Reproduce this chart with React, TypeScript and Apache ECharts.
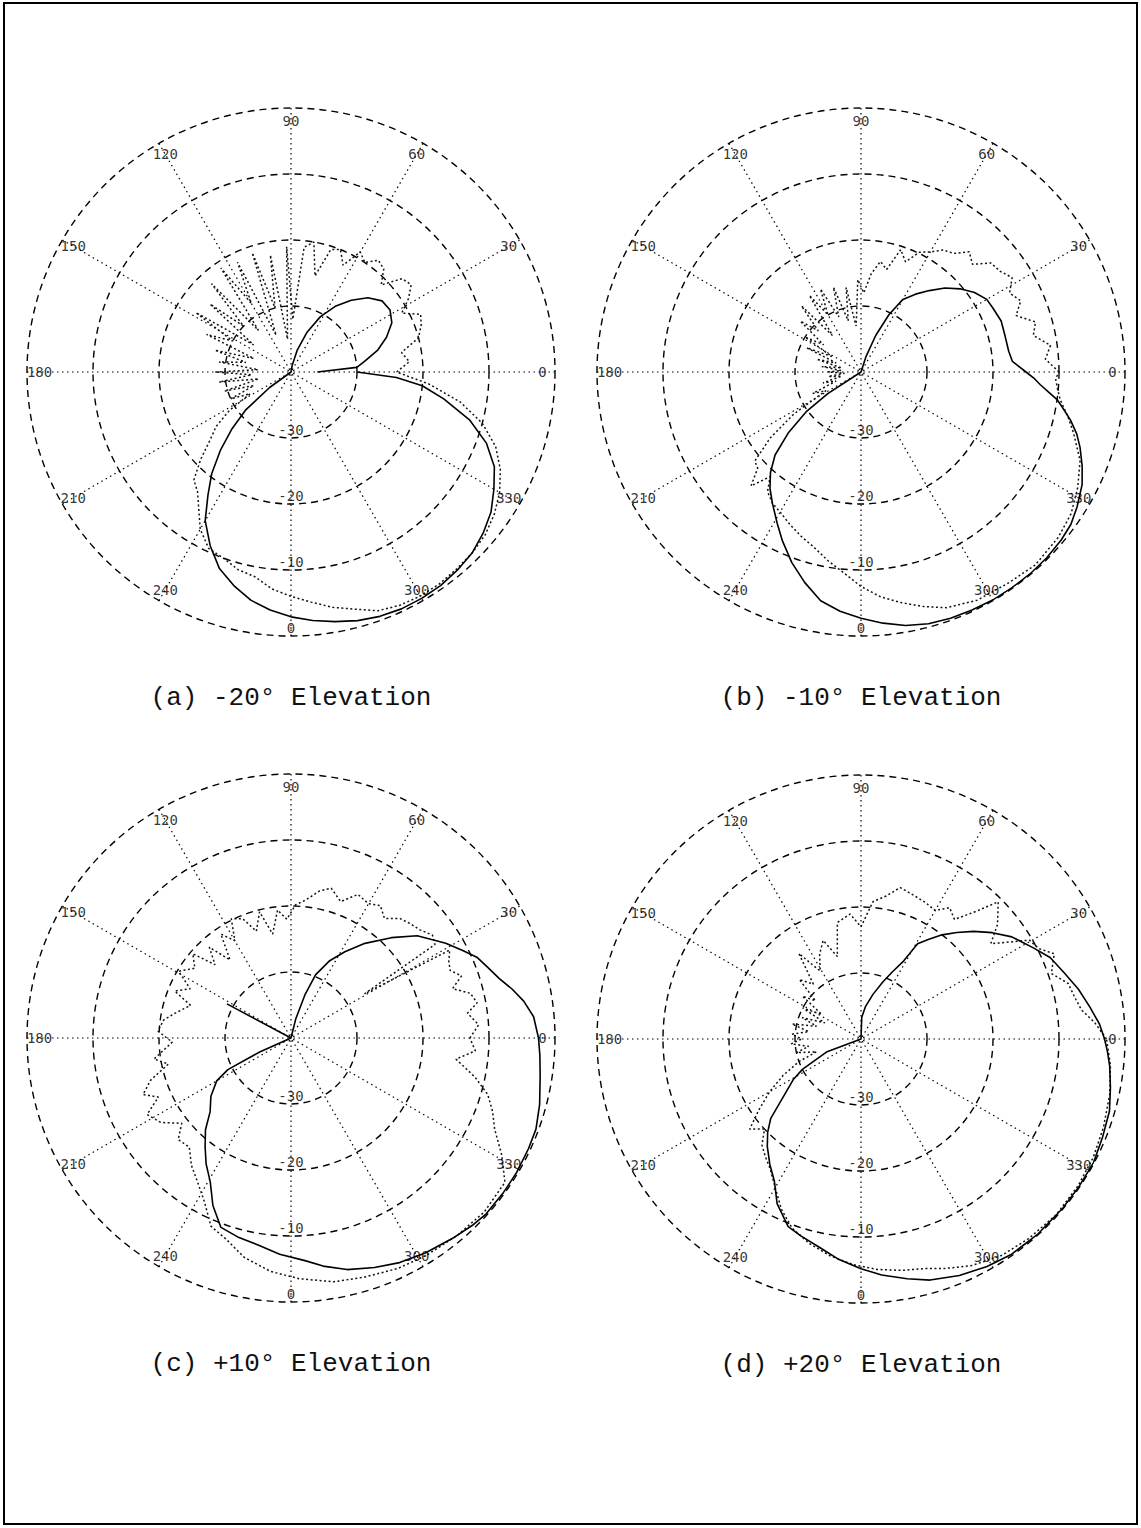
import { useEffect, useRef } from "react";
import * as echarts from "echarts";

// Tick labels
const RADIAL_TICKS = [-30, -20, -10, 0];
const ANGLE_TICKS = [0, 30, 60, 90, 120, 150, 180, 210, 240, 300, 330];
const CAPTIONS = [
  "(a) -20° Elevation",
  "(b) -10° Elevation",
  "(c) +10° Elevation",
  "(d) +20° Elevation",
];

// Each pair: [azimuth angle in degrees, level in dB]
const A_SOLID: [number, number][] = [
  [0, -36], [4, -30], [8, -28.8], [14, -26.5], [20, -24.6], [26, -23], [32, -22.3], [38, -22.5],
  [44, -23.8], [50, -25.8], [56, -28], [62, -30.5], [68, -33.5], [74, -36.5], [80, -39], [90, -40],
  [150, -40], [212, -40], [216, -36], [220, -31], [224, -27.5], [228, -24], [232, -20.5], [236, -17.5],
  [240, -14], [245, -11], [250, -8.3], [255, -6.5], [260, -4.9], [265, -3.8], [270, -2.9], [275, -2.2],
  [280, -1.6], [285, -1.0], [290, -0.6], [295, -0.4], [300, -0.4], [305, -0.5], [310, -0.8], [315, -1.2],
  [320, -2.0], [325, -3.0], [330, -4.5], [335, -6], [340, -8.5], [345, -12], [350, -16.5], [354, -20],
  [357, -24], [360, -30],
];
const A_DOT: [number, number][] = [
  [0, -24], [5, -22], [10, -23], [15, -20], [20, -19], [24, -18.5], [28, -21], [32, -19], [36, -17.5],
  [40, -18], [44, -21], [48, -19], [52, -18.5], [56, -20], [60, -19], [64, -22], [68, -20], [72, -20.5],
  [76, -25], [80, -20], [84, -21], [88, -32], [92, -21], [96, -35], [100, -22], [104, -30], [108, -21],
  [112, -34], [116, -21.5], [120, -28], [124, -21], [128, -32], [132, -22], [136, -30], [140, -24],
  [144, -33], [148, -23], [152, -30], [156, -26], [160, -34], [164, -28], [168, -33], [172, -29],
  [176, -35], [180, -28.5], [184, -34], [188, -29], [192, -35], [196, -29.5], [200, -34], [204, -30],
  [208, -33], [212, -29], [216, -26], [220, -24], [224, -21], [228, -18], [232, -17], [236, -15],
  [240, -12.5], [245, -10.5], [250, -10], [255, -9], [260, -8.5], [265, -7], [270, -6], [275, -5],
  [280, -3.8], [285, -2.8], [290, -1.5], [295, -1.0], [300, -0.8], [305, -0.8], [310, -1], [315, -1.2],
  [320, -1.6], [325, -2.4], [330, -3.5], [335, -5], [340, -7], [345, -10], [350, -14], [355, -19],
  [360, -24],
];

const B_SOLID: [number, number][] = [
  [0, -15], [4, -17], [8, -17.4], [14, -17.5], [20, -17.4], [26, -17.8], [30, -18], [35, -19],
  [40, -20.4], [45, -22], [50, -23.9], [55, -25.6], [60, -27.3], [64, -30.3], [68, -34], [72, -37.5],
  [76, -40], [150, -40], [210, -40], [213, -34], [216, -29.7], [220, -25.6], [224, -21.9], [228, -19.5],
  [232, -17.6], [236, -16], [241, -13.8], [245, -11.8], [250, -9.3], [255, -7], [260, -4.8], [265, -3.6],
  [270, -2.7], [275, -1.8], [280, -1], [285, -0.5], [290, -0.3], [295, -0.2], [300, -0.1], [305, -0.1],
  [310, -0.1], [315, -0.2], [320, -0.4], [324, -0.7], [328, -1.4], [333, -2.4], [337, -3.6], [341, -4.9],
  [344, -6], [347, -7.4], [350, -9], [352, -10], [354, -11.5], [356, -12.8], [358, -13.8], [360, -15],
];
const B_DOT: [number, number][] = [
  [0, -10], [4, -12], [8, -11], [12, -13.3], [16, -12.5], [20, -15], [24, -13.5], [28, -14.5], [32, -13],
  [36, -14], [40, -14.3], [44, -16.5], [48, -15.5], [52, -17.2], [56, -17.7], [60, -19], [64, -19.8],
  [68, -22], [72, -20.5], [76, -24], [80, -23], [84, -25], [88, -28], [92, -26], [96, -33], [100, -27],
  [104, -32], [108, -26.5], [112, -31], [116, -26], [120, -30], [124, -26], [128, -33], [132, -26.5],
  [136, -31], [140, -28], [144, -33], [148, -30], [152, -35], [156, -31], [160, -36], [164, -33],
  [168, -37], [172, -34], [176, -37], [180, -35], [184, -37.5], [188, -35], [192, -37], [196, -34],
  [200, -36], [204, -32], [208, -34], [212, -28], [216, -23], [220, -19], [223, -18.6], [226, -16],
  [229, -19], [232, -17], [236, -16], [240, -15.5], [245, -14.5], [250, -13.5], [255, -12.5], [260, -11],
  [265, -9.5], [270, -7.5], [275, -5.8], [280, -4.5], [285, -3.2], [290, -2], [297, -1.2], [305, -1.0],
  [312, -0.6], [320, -1.0], [326, -1.6], [332, -2.8], [338, -4.2], [344, -6.5], [348, -8], [352, -9.5],
  [355, -10.1], [358, -10.5], [360, -10],
];

const C_SOLID: [number, number][] = [
  [0, -2.5], [5, -3.1], [9, -4.3], [12.5, -5.7], [16, -7.2], [20, -8.4], [23.5, -9.3], [27, -10.8],
  [31.5, -12.5], [35, -14], [39, -15.4], [45, -18.5], [52, -21.8], [58, -24.6], [63.4, -26.9],
  [68.7, -29.7], [72, -33], [76, -37], [80, -40], [148, -40], [152, -29], [156, -40], [200, -40],
  [204, -34.8], [206.6, -29.3], [210, -27], [216, -25], [222.4, -23.4], [227, -21], [231.7, -19],
  [236, -17], [240.7, -15], [245, -12], [249.7, -9.4], [255, -8.8], [261.3, -8.2], [267, -7.2],
  [273.6, -6.2], [278, -5.1], [283.6, -3.9], [290, -3], [295.8, -2.2], [302, -1.6], [308.9, -1],
  [314, -0.5], [318, -0.2], [324, -0.2], [329, -0.2], [335, -0.3], [339.6, -0.4], [345, -1],
  [351.2, -1.8], [356, -2.2], [360, -2.5],
];
const C_DOT: [number, number][] = [
  [0, -12.9], [4, -11.5], [8, -13], [10.7, -11.3], [14, -12], [17, -14.4], [20, -12.5], [23, -13.8],
  [26, -13.4], [29, -12.5], [31, -27], [33, -14], [36, -13.5], [40, -14.5], [44, -15], [47.6, -15.5],
  [52, -17], [56, -15.8], [60, -16.5], [65, -16], [70, -18], [75, -16.5], [79, -17.3], [84, -19],
  [88, -19.8], [92, -22], [96, -20.5], [100, -24], [104, -20.3], [108, -23], [112, -20.5], [116.6, -19.8],
  [120, -23], [124, -21], [128, -25], [132, -21.5], [136, -24], [139.4, -20.4], [144, -22],
  [149.3, -20.2], [154, -23], [158, -21], [162, -24], [168, -22], [172, -20.5], [177, -19.8], [182, -22],
  [188.7, -19], [192, -21], [196.7, -17.8], [200.9, -16], [204, -18], [208, -15.3], [213, -16.5],
  [218, -19], [222, -17], [227, -17.4], [232, -15.5], [237, -14], [242, -12], [247, -9], [252, -8],
  [258, -6], [265, -4.5], [272, -3.5], [280, -2.5], [287, -2.1], [295, -1.5], [302, -1.2], [310, -0.9],
  [318, -0.6], [326, -0.9], [331, -3.5], [335.9, -6.2], [340, -7.5], [344, -9], [348, -11.5],
  [352.7, -14.8], [356, -12], [360, -12.9],
];

const D_SOLID: [number, number][] = [
  [0, -3.1], [3.6, -3.8], [8, -5], [12.9, -6.2], [18, -7.6], [23.3, -8.8], [28, -10.5], [34.1, -12.4],
  [39, -14.4], [43.7, -16.4], [48, -18.3], [52.1, -20], [56, -21.8], [59.3, -23.2], [61.3, -26.5],
  [65, -28.8], [69, -30.7], [75, -33], [82, -35], [88, -36.7], [92, -40], [200, -40], [200.7, -34.4],
  [207.4, -30], [211, -28], [215.8, -25.8], [221.3, -21.8], [225, -20], [228.9, -18.4], [234, -16.5],
  [238.6, -14.8], [243, -12], [248.8, -9.5], [253, -8.8], [258.8, -7.8], [264, -6.5], [270, -5.2],
  [275, -4.1], [280.9, -3], [286, -2], [292.6, -1.2], [299, -0.6], [305, -0.2], [312, -0.1], [320, -0.1],
  [326, -0.1], [332, -0.1], [338, -0.5], [343.8, -0.8], [349, -1.5], [353.8, -2.1], [357, -2.6],
  [360, -3.1],
];
const D_DOT: [number, number][] = [
  [0, -2.8], [4, -4.5], [7.5, -6.3], [11, -7], [15, -7.5], [19, -9.5], [23.8, -8], [27, -9.8],
  [30.4, -10.4], [33, -13], [36.3, -15.6], [40, -13], [45, -10.6], [48, -14], [52, -17], [56, -16],
  [60, -17.5], [65.2, -17.1], [70, -16.8], [75.5, -16.3], [80, -18], [85, -19.1], [90, -23], [95, -21],
  [101.5, -22], [106, -27], [111, -24], [116, -25.7], [121, -28], [126, -24], [131, -29], [136, -27],
  [140, -31], [143.8, -29], [148, -33], [152, -30], [156, -34], [160, -30.5], [164, -33], [167.7, -29.3],
  [172, -32], [176, -29.5], [180, -31], [184, -29.4], [188, -32], [192, -30], [196, -33], [200, -30],
  [205, -27], [210, -24], [215, -21], [219, -18.3], [223, -20], [227, -18], [231, -17], [235, -16],
  [240, -14], [245, -11.5], [250, -9.5], [256, -8], [262, -6.8], [268, -5.8], [274, -5], [280, -4.4],
  [285.5, -3.9], [290, -3], [296, -1.8], [303, -0.9], [310, -0.5], [318, -0.2], [326, -0.3], [333, -0.5],
  [340, -0.9], [347.6, -1.4], [354, -2], [360, -2.8],
];

const SOLIDS = [A_SOLID, B_SOLID, C_SOLID, D_SOLID];
const DOTS = [A_DOT, B_DOT, C_DOT, D_DOT];

// Layout (pixels)
const CENTERS: [number, number][] = [
  [291, 372],
  [861, 372],
  [291, 1038],
  [861, 1039],
];
const RADIUS = 264;
const CAPTION_DY = 326;
const ANGLE_LABEL_DB = -1.9;

export default function App() {
  const ref = useRef<HTMLDivElement>(null);

  useEffect(() => {
    if (!ref.current) return;
    const chart = echarts.init(ref.current, undefined, { renderer: "svg" });

    const polar = CENTERS.map((c) => ({ center: c, radius: RADIUS }));
    const angleAxis = CENTERS.map((_, i) => ({
      polarIndex: i,
      type: "value",
      min: 0,
      max: 360,
      interval: 30,
      startAngle: 0,
      clockwise: false,
      axisLine: { show: false },
      axisTick: { show: false },
      axisLabel: { show: false },
      splitLine: { show: true, lineStyle: { color: "#000", width: 1.2, type: [1.5, 3.5] } },
    }));
    const radiusAxis = CENTERS.map((_, i) => ({
      polarIndex: i,
      type: "value",
      min: -40,
      max: 0,
      interval: 10,
      axisLine: { show: false },
      axisTick: { show: false },
      axisLabel: { show: false },
      splitLine: { show: true, lineStyle: { color: "#000", width: 1.4, type: [7, 5] } },
    }));

    const labelFont = { color: "#000", fontFamily: "DejaVu Sans Mono", fontSize: 14 };

    const series: any[] = [];
    CENTERS.forEach((_, i) => {
      series.push({
        type: "line",
        coordinateSystem: "polar",
        polarIndex: i,
        showSymbol: false,
        silent: true,
        data: DOTS[i].map(([a, d]) => [d, a]),
        lineStyle: { color: "#111", width: 1.5, type: [2, 2.5] },
        z: 3,
      });
      series.push({
        type: "line",
        coordinateSystem: "polar",
        polarIndex: i,
        showSymbol: false,
        silent: true,
        data: SOLIDS[i].map(([a, d]) => [d, a]),
        lineStyle: { color: "#000", width: 1.6 },
        z: 4,
      });
      series.push({
        type: "scatter",
        coordinateSystem: "polar",
        polarIndex: i,
        silent: true,
        symbolSize: 1,
        itemStyle: { color: "rgba(0,0,0,0)" },
        data: ANGLE_TICKS.map((a) => [ANGLE_LABEL_DB, a]),
        label: {
          show: true,
          position: "inside",
          formatter: (p: any) => String(p.value[1]),
          ...labelFont,
        },
        z: 5,
      });
      series.push({
        type: "scatter",
        coordinateSystem: "polar",
        polarIndex: i,
        silent: true,
        symbolSize: 1,
        itemStyle: { color: "rgba(0,0,0,0)" },
        data: RADIAL_TICKS.map((r) => [r, 270]),
        label: {
          show: true,
          position: "top",
          distance: 1,
          formatter: (p: any) => String(p.value[0]),
          ...labelFont,
        },
        z: 5,
      });
    });

    const graphic: any[] = [
      {
        type: "rect",
        shape: { x: 4, y: 3, width: 1133, height: 1521 },
        style: { fill: "none", stroke: "#000", lineWidth: 2 },
        silent: true,
      },
      ...CENTERS.map((c, i) => ({
        type: "text",
        x: c[0],
        y: c[1] + CAPTION_DY,
        style: {
          text: CAPTIONS[i],
          align: "center",
          verticalAlign: "middle",
          fill: "#111",
          font: "26px 'Liberation Mono'",
        },
        silent: true,
      })),
    ];

    chart.setOption({
      animation: false,
      backgroundColor: "#fff",
      polar,
      angleAxis,
      radiusAxis,
      series,
      graphic,
    });

    return () => chart.dispose();
  }, []);

  return (
    <div
      ref={ref}
      style={{ position: "absolute", left: 0, top: 0, width: 1141, height: 1528 }}
    />
  );
}
